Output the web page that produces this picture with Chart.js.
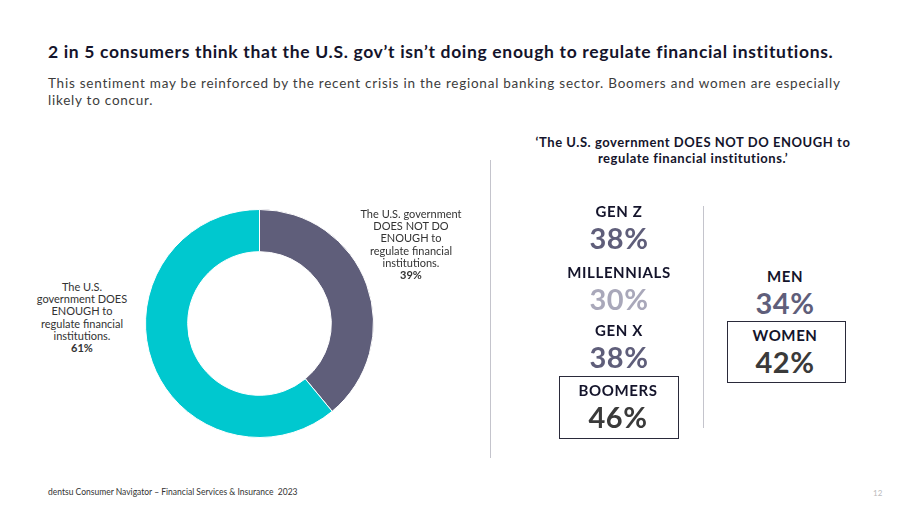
<!DOCTYPE html>
<html>
<head>
<meta charset="utf-8">
<script src="https://cdn.jsdelivr.net/npm/chart.js@4"></script>
<style>
  body { margin: 0; width: 920px; height: 518px; background: #fff; font-family: Lato, "Open Sans", sans-serif; color: #1f1f2e; position: relative; overflow: hidden; }
  .abs { position: absolute; }
  #title { left: 48px; top: 41px; font-size: 17.5px; font-weight: 700; letter-spacing: 0.67px; color: #14142b; white-space: nowrap; }
  #sub { left: 48px; top: 75px; width: 795px; font-size: 13.5px; line-height: 17px; letter-spacing: 0.76px; color: #3c3c3c; }
  .lbl { font-size: 11px; line-height: 12.2px; color: #333; text-align: center; }
  .lbl b { font-weight: 700; }
  #rhead { left: 500px; top: 134px; width: 386px; text-align: center; font-size: 13px; line-height: 16px; font-weight: 700; letter-spacing: 0.55px; color: #14142b; }
  .vline { width: 1px; background: #c4c4cc; }
  .stat { text-align: center; }
  .stat .k { font-size: 15px; line-height: 18px; font-weight: 700; color: #14142b; letter-spacing: 0.6px; }
  .stat .v { font-size: 29px; font-weight: 700; line-height: 36px; letter-spacing: 0.5px; }
  .box { border: 1px solid #2a2a3a; }
  #foot { left: 48px; top: 487px; font-size: 8.5px; color: #333; }
  #page { left: 873px; top: 488px; font-size: 8px; color: #bbb; }
</style>
</head>
<body>
<div id="title" class="abs">2 in 5 consumers think that the U.S. gov’t isn’t doing enough to regulate financial institutions.</div>
<div id="sub" class="abs">This sentiment may be reinforced by the recent crisis in the regional banking sector. Boomers and women are especially likely to concur.</div>

<div class="abs" style="left:145px; top:209px; width:229px; height:229px;"><canvas id="donut"></canvas></div>
<div id="lblRight" class="abs lbl" style="left:346px; top:208px; width:130px;"></div>
<div id="lblLeft" class="abs lbl" style="left:27px; top:281px; width:110px;"></div>

<div class="abs vline" style="left:490px; top:160px; height:298px;"></div>
<div id="rhead" class="abs">‘The U.S. government DOES NOT DO ENOUGH to<br>regulate financial institutions.’</div>
<div class="abs vline" style="left:703px; top:206px; height:222px;"></div>
<div id="stats"></div>

<div id="foot" class="abs">dentsu Consumer Navigator – Financial Services &amp; Insurance &nbsp;2023</div>
<div id="page" class="abs">12</div>

<script>
// donut data
const sliceLabels = [
  'The U.S. government DOES NOT DO ENOUGH to regulate financial institutions.',
  'The U.S. government DOES ENOUGH to regulate financial institutions.'
];
const sliceValues = [39, 61];
const sliceColors = ['#5f5e7a', '#00c8cf'];

// breakouts
const generations = ['GEN Z', 'MILLENNIALS', 'GEN X', 'BOOMERS'];
const genValues = [38, 30, 38, 46];
const genders = ['MEN', 'WOMEN'];
const genderValues = [34, 42];

// label text (line breaks as in the slide)
document.getElementById('lblRight').innerHTML =
  'The U.S. government<br>DOES NOT DO<br>ENOUGH to<br>regulate financial<br>institutions.<br><b>' + sliceValues[0] + '%</b>';
document.getElementById('lblLeft').innerHTML =
  'The U.S.<br>government DOES<br>ENOUGH to<br>regulate financial<br>institutions.<br><b>' + sliceValues[1] + '%</b>';

new Chart(document.getElementById('donut'), {
  type: 'doughnut',
  data: {
    labels: sliceLabels,
    datasets: [{
      data: sliceValues,
      backgroundColor: sliceColors,
      borderColor: '#fff',
      borderWidth: 1
    }]
  },
  options: {
    responsive: true,
    maintainAspectRatio: false,
    animation: false,
    cutout: '63%',
    plugins: { legend: { display: false }, tooltip: { enabled: false } }
  }
});

// where each stat block sits
const statColors = { normal: '#5f5e7a', light: '#a9a8ba', boxed: '#3a3a3a' };
const genLayout = [
  { x: 619, y: 202, c: statColors.normal },
  { x: 619, y: 263, c: statColors.light },
  { x: 619, y: 321, c: statColors.normal },
  { x: 618, y: 381, c: statColors.boxed, box: [559, 376, 118, 61] }
];
const genderLayout = [
  { x: 785, y: 267, c: statColors.normal },
  { x: 785, y: 326, c: statColors.boxed, box: [727, 321, 117, 60] }
];

const statsEl = document.getElementById('stats');
function addStat(label, value, lay) {
  if (lay.box) {
    const b = document.createElement('div');
    b.className = 'abs box';
    b.style.left = lay.box[0] + 'px';
    b.style.top = lay.box[1] + 'px';
    b.style.width = lay.box[2] + 'px';
    b.style.height = lay.box[3] + 'px';
    statsEl.appendChild(b);
  }
  const d = document.createElement('div');
  d.className = 'abs stat';
  d.style.left = (lay.x - 70) + 'px';
  d.style.top = lay.y + 'px';
  d.style.width = '140px';
  d.innerHTML = '<div class="k">' + label + '</div><div class="v" style="color:' + lay.c + '">' + value + '%</div>';
  statsEl.appendChild(d);
}
generations.forEach((g, i) => addStat(g, genValues[i], genLayout[i]));
genders.forEach((g, i) => addStat(g, genderValues[i], genderLayout[i]));
</script>
</body>
</html>
